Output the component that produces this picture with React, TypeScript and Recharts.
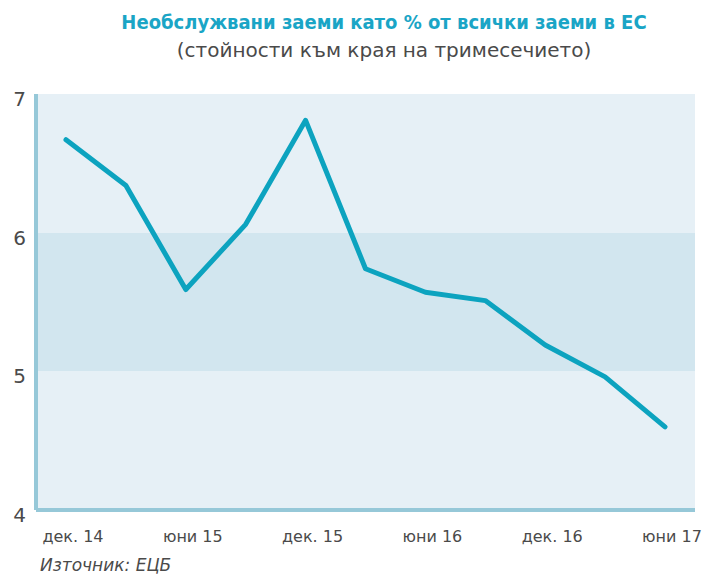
import React from "react";
import { LineChart, Line, XAxis, YAxis, CartesianGrid } from "recharts";

const quarters = [
  "дек. 14", "мар. 15", "юни 15", "сеп. 15", "дек. 15", "мар. 16",
  "юни 16", "сеп. 16", "дек. 16", "мар. 17", "юни 17",
];
const npl = [6.67, 6.34, 5.59, 6.06, 6.81, 5.74, 5.57, 5.51, 5.19, 4.96, 4.6];
const yTicks = [4, 5, 6, 7];

const title = "Необслужвани заеми като % от всички заеми в ЕС";
const subtitle = "(стойности към края на тримесечието)";
const source = "Източник: ЕЦБ";

const data = quarters.map((q, i) => ({ q, v: npl[i] }));

const TEXT = "#4a4a4a";
const AXIS = "#96c8d8";
const FONT = "'DejaVu Sans', sans-serif";

const YTick = ({ x, y, payload }: any) => (
  <text x={x} y={y + 5} textAnchor="end" dominantBaseline="central" fontSize={20} fill={TEXT} fontFamily={FONT}>
    {payload.value}
  </text>
);

const XTick = ({ x, y, payload }: any) => (
  <text x={x + 7} y={y + 26} textAnchor="middle" dominantBaseline="central" fontSize={16} fill={TEXT} fontFamily={FONT}>
    {payload.value}
  </text>
);

const App = () => {
  return (
    <div style={{ position: "absolute", left: 0, top: 0, width: 707, height: 574, background: "#fff" }}>
      <div
        style={{
          position: "absolute", left: 384, top: 8, transform: "translateX(-50%)", whiteSpace: "nowrap",
          fontFamily: "'DejaVu Sans Condensed', 'DejaVu Sans', sans-serif", fontWeight: "bold", fontSize: 20,
          lineHeight: "28px", color: "#1aa5c6",
        }}
      >
        {title}
      </div>
      <div
        style={{
          position: "absolute", left: 384, top: 36, transform: "translateX(-50%)", whiteSpace: "nowrap",
          fontFamily: FONT, fontSize: 20, lineHeight: "28px", color: TEXT,
        }}
      >
        {subtitle}
      </div>
      <LineChart width={707} height={574} data={data} margin={{ top: 94, right: 12, bottom: 0, left: 0 }}>
        {/* background bands 4-5 / 5-6 / 6-7 */}
        <CartesianGrid
          vertical={false}
          stroke="none"
          horizontalFill={["#e6f0f6", "#d2e6ef", "#e6f0f6"]}
          fillOpacity={1}
        />
        <XAxis
          dataKey="q"
          interval={1}
          height={64}
          padding={{ left: 30, right: 30 }}
          tickLine={false}
          tickSize={0}
          tickMargin={0}
          axisLine={{ stroke: AXIS, strokeWidth: 4 }}
          tick={<XTick />}
        />
        <YAxis
          width={36}
          domain={[4, 7]}
          ticks={yTicks}
          tickLine={false}
          tickSize={0}
          tickMargin={10}
          axisLine={{ stroke: AXIS, strokeWidth: 4 }}
          tick={<YTick />}
        />
        <Line
          type="linear"
          dataKey="v"
          stroke="#0ca3bf"
          strokeWidth={5}
          dot={false}
          activeDot={false}
          strokeLinejoin="round"
          strokeLinecap="round"
          isAnimationActive={false}
        />
      </LineChart>
      <div
        style={{
          position: "absolute", left: 40, top: 556, whiteSpace: "nowrap",
          fontFamily: FONT, fontStyle: "italic", fontSize: 17, lineHeight: "18px", color: TEXT,
        }}
      >
        {source}
      </div>
    </div>
  );
};

export default App;
